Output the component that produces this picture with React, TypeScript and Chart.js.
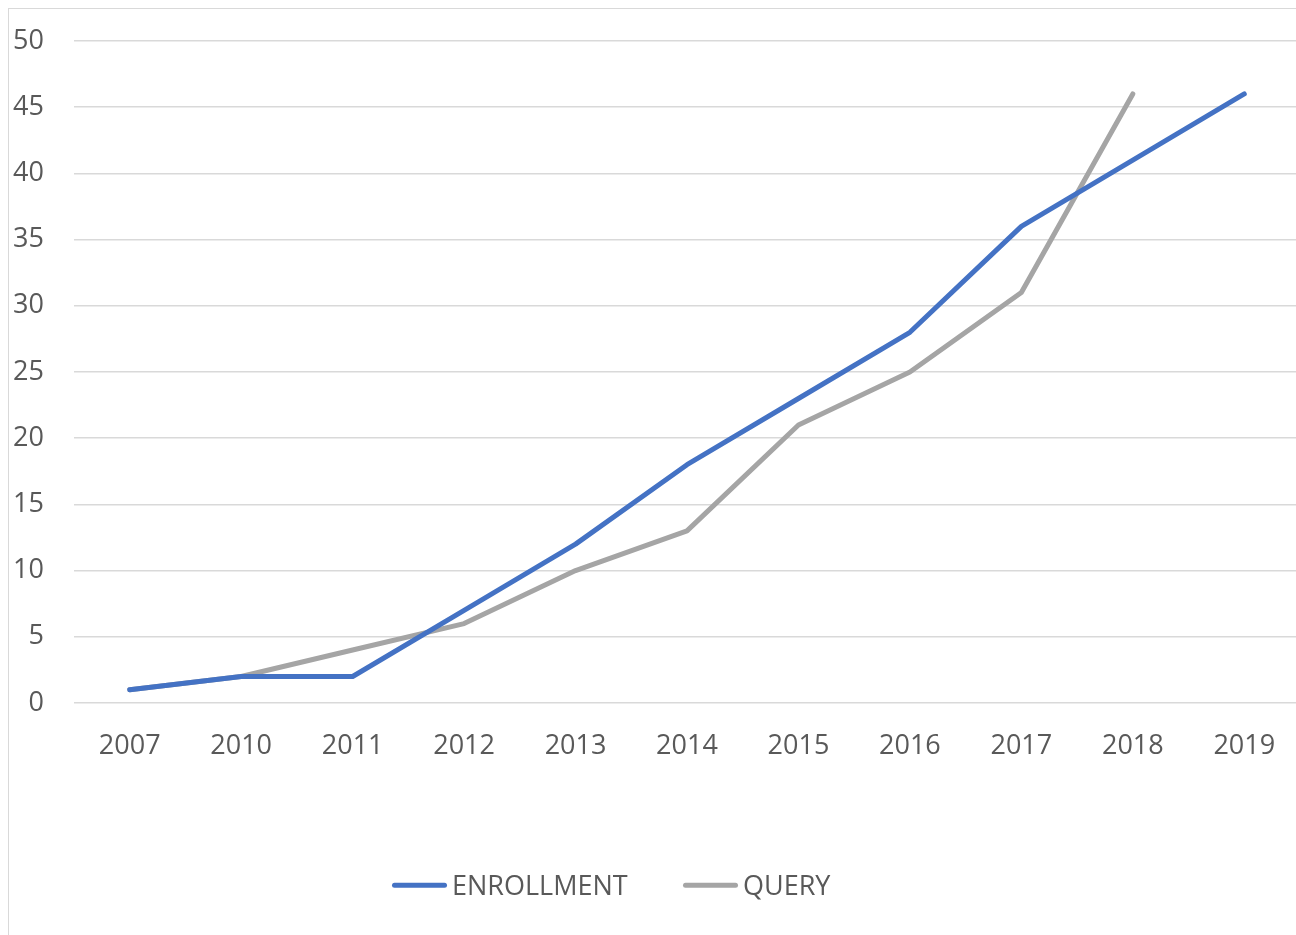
import React, { useEffect, useRef } from "react";
import { Chart, registerables } from "chart.js";

Chart.register(...registerables);

const years = ["2007", "2010", "2011", "2012", "2013", "2014", "2015", "2016", "2017", "2018", "2019"];
const enrollment = [1, 2, 2, 7, 12, 18, 23, 28, 36, 41, 46];
const query: (number | null)[] = [1, 2, 4, 6, 10, 13, 21, 25, 31, 46, null];
const seriesNames = ["ENROLLMENT", "QUERY"];
const seriesColors = ["#4472C4", "#A5A5A5"];

const FONT = "'Open Sans', 'DejaVu Sans', sans-serif";
const TEXT = "#595959";

export default function App() {
  const ref = useRef<HTMLCanvasElement | null>(null);

  useEffect(() => {
    const ctx = ref.current!;
    const chart = new Chart(ctx, {
      type: "line",
      data: {
        labels: years,
        datasets: [
          {
            label: seriesNames[0],
            data: enrollment,
            borderColor: seriesColors[0],
            backgroundColor: seriesColors[0],
            borderWidth: 5,
            pointRadius: 0,
            borderCapStyle: "round",
            borderJoinStyle: "round",
            tension: 0,
          },
          {
            label: seriesNames[1],
            data: query,
            borderColor: seriesColors[1],
            backgroundColor: seriesColors[1],
            borderWidth: 5,
            pointRadius: 0,
            borderCapStyle: "round",
            borderJoinStyle: "round",
            tension: 0,
            spanGaps: false,
          },
        ],
      },
      options: {
        responsive: false,
        animation: false,
        layout: { padding: { top: 33, right: 8, bottom: 132, left: 0 } },
        plugins: {
          legend: { display: false },
          tooltip: { enabled: false },
          title: { display: false },
        },
        scales: {
          x: {
            offset: true,
            grid: { display: false, drawTicks: true, tickLength: 27, tickColor: "rgba(0,0,0,0)" },
            border: { display: false },
            ticks: {
              padding: 0,
              color: TEXT,
              font: { family: FONT, size: 27 },
              maxRotation: 0,
              autoSkip: false,
            },
            afterFit: (scale: any) => {
              scale.height = 100;
            },
          },
          y: {
            min: 0,
            max: 50,
            grid: {
              color: "#d9d9d9",
              lineWidth: 1.5,
              drawTicks: true,
              tickLength: 30,
              tickColor: "rgba(0,0,0,0)",
            },
            border: { display: false },
            ticks: {
              stepSize: 5,
              padding: 0,
              color: TEXT,
              font: { family: FONT, size: 27 },
            },
            afterFit: (scale: any) => {
              scale.width = 66;
            },
          },
        },
      },
    });
    return () => chart.destroy();
  }, []);

  const legendItem = (i: number, left: number) => (
    <div
      key={i}
      style={{
        position: "absolute",
        left,
        top: 877,
        transform: "translateY(-50%)",
        display: "flex",
        alignItems: "center",
        whiteSpace: "nowrap",
      }}
    >
      <div
        style={{
          width: 55,
          height: 5,
          borderRadius: 3,
          background: seriesColors[i],
          marginRight: 5,
        }}
      />
      <span style={{ fontFamily: FONT, fontSize: 27, color: TEXT, lineHeight: 1.2 }}>
        {seriesNames[i]}
      </span>
    </div>
  );

  return (
    <div
      style={{
        position: "fixed",
        left: 8,
        top: 8,
        width: 1288,
        height: 927,
        overflow: "hidden",
        background: "#fff",
      }}
    >
      <canvas ref={ref} width={1300} height={927} style={{ display: "block" }} />
      <div
        style={{
          position: "absolute",
          left: 0,
          top: 0,
          width: 1400,
          height: 1000,
          borderLeft: "1.5px solid #d9d9d9",
          borderTop: "1.5px solid #d9d9d9",
          pointerEvents: "none",
        }}
      />
      {legendItem(0, 384)}
      {legendItem(1, 675)}
    </div>
  );
}
